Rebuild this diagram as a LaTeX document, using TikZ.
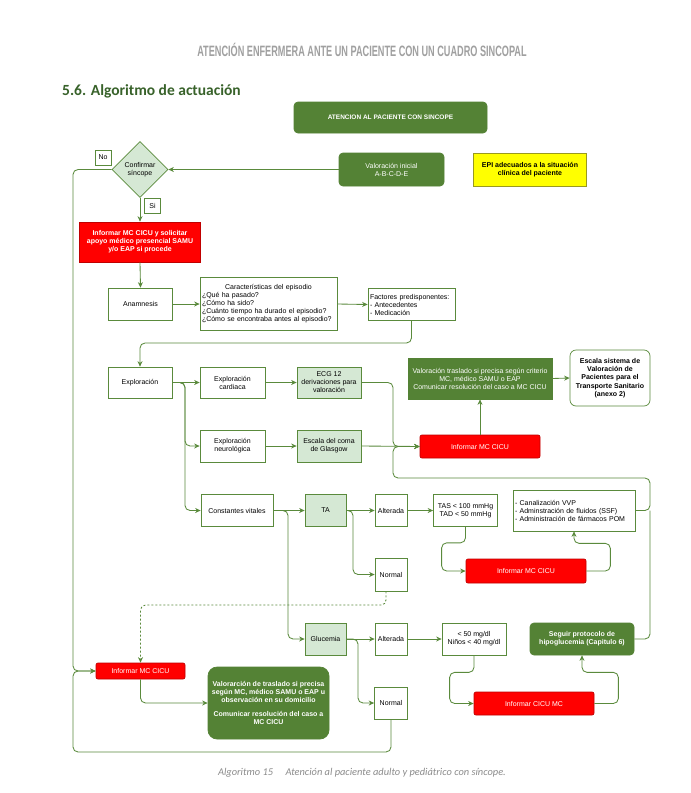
\documentclass[tikz,border=0pt]{standalone}
\usepackage{fontspec}
\setmainfont{Liberation Sans}
\newfontfamily\titlefont[FakeStretch=0.61]{Liberation Sans}
\newfontfamily\headfont{Carlito}
\usetikzlibrary{shapes.geometric,arrows.meta,calc}
\definecolor{dgreen}{HTML}{548235}
\definecolor{lcol}{HTML}{5A8A3C}
\definecolor{lgreen}{HTML}{D5E8D4}
\definecolor{rfill}{HTML}{FF0000}
\definecolor{rborder}{HTML}{C00000}
\definecolor{yfill}{HTML}{FFFF00}
\definecolor{yborder}{HTML}{99991F}
\definecolor{tgray}{HTML}{A0A0A0}
\definecolor{hgreen}{HTML}{38622A}
\definecolor{cgray}{HTML}{8C8C8C}
\tikzset{
  base/.style={font=\fontsize{7}{8}\selectfont, align=center, inner sep=1pt, line width=0.7pt},
  wbox/.style={base, draw=lcol, fill=white},
  lbox/.style={wbox, fill=lgreen},
  gbox/.style={base, draw=dgreen, fill=dgreen, text=white, rounded corners=4pt},
  rbox/.style={base, draw=rborder, fill=rfill, text=white, rounded corners=2pt},
  ybox/.style={base, draw=yborder, fill=yfill, font=\fontsize{7}{8}\selectfont\bfseries},
  sz/.style 2 args={minimum width=#1pt, minimum height=#2pt},
  conn/.style={draw=lcol, line width=0.85pt, rounded corners=5pt, -{Stealth[length=5.5pt,width=5pt]}},
  plain/.style={draw=lcol, line width=0.85pt, rounded corners=5pt},
}
\begin{document}
\begin{tikzpicture}[x=1pt,y=-1pt]
\useasboundingbox[fill=white] (0,0) rectangle (691,793);

% texts
\node[font=\titlefont\bfseries\fontsize{15}{15}\selectfont, text=tgray] (title) at (362,50) {ATENCIÓN ENFERMERA ANTE UN PACIENTE CON UN CUADRO SINCOPAL};
\node[font=\headfont\bfseries\fontsize{15.5}{16}\selectfont, text=hgreen, anchor=west, inner sep=0] (head) at (62,91) {5.6. Algoritmo de actuación};
\node[font=\headfont\itshape\fontsize{10.4}{11}\selectfont, text=cgray] (cap) at (362,773) {Algoritmo 15\hspace{1.2em}Atención al paciente adulto y pediátrico con síncope.};

% coordinates
\coordinate (lx) at (73,0);
\coordinate (ex) at (185,0);
\coordinate (gx) at (288,0);
\coordinate (tx) at (353,0);
\coordinate (g2x) at (358,0);
\coordinate (mx) at (393,0);
\coordinate (rx) at (650,0);
\coordinate (topy) at (0,343);
\coordinate (midy) at (0,478);
\coordinate (dashy) at (0,605);
\coordinate (boty) at (0,752);

% nodes
\node[gbox, sz={193}{31}, font=\fontsize{6.5}{8}\selectfont\bfseries] (atten) at (390.5,117.5) {ATENCION AL PACIENTE CON SINCOPE};
\node[base, draw=lcol, fill=lgreen, shape=diamond, sz={56}{56}, inner sep=0pt] (diamond) at (140,169.5) {Confirmar\\síncope};
\node[wbox, sz={16}{15}] (no) at (103,157.5) {No};
\node[wbox, sz={16}{15}] (si) at (152.5,205.5) {Si};
\node[gbox, sz={105}{33}] (valini) at (391.5,169.5) {Valoración inicial\\A-B-C-D-E};
\node[ybox, sz={113}{33}] (epi) at (530,169.5) {EPI adecuados a la situación\\clínica del paciente};
\node[rbox, rounded corners=0pt, sz={121}{40}, font=\fontsize{7}{8}\selectfont\bfseries] (red1) at (140,242) {Informar MC CICU y solicitar\\apoyo médico presencial SAMU\\y/o EAP si procede};
\node[wbox, sz={64}{32}] (anam) at (140.5,304) {Anamnesis};
\node[wbox, sz={137}{53}, text width=133pt, align=left] (carac) at (268.5,304) {\makebox[133pt][c]{Características del episodio}\\¿Qué ha pasado?\\¿Cómo ha sido?\\¿Cuánto tiempo ha durado el episodio?\\¿Cómo se encontraba antes al episodio?};
\node[wbox, sz={87}{32}, text width=83pt, align=left] (factores) at (411.5,304.5) {Factores predisponentes:\\- Antecedentes\\- Medicación};
\node[wbox, sz={64}{31}] (explo) at (140,382.5) {Exploración};
\node[wbox, sz={65}{31}] (cardi) at (232.5,382.5) {Exploración\\cardiaca};
\node[lbox, sz={64}{31}] (ecg) at (329,382.5) {ECG 12\\derivaciones para\\valoración};
\node[wbox, sz={65}{32}] (neuro) at (232.5,446) {Exploración\\neurológica};
\node[lbox, sz={64}{32}] (glas) at (329,446) {Escala del coma\\de Glasgow};
\node[gbox, rounded corners=0pt, sz={144}{41}] (vtras) at (480,378.5) {Valoración traslado si precisa según criterio\\MC, médico SAMU o EAP\\Comunicar resolución del caso a MC CICU};
\node[wbox, rounded corners=6pt, sz={80}{56}, font=\fontsize{7}{8.3}\selectfont\bfseries] (escala) at (610,378) {Escala sistema de\\Valoración de\\Pacientes para el\\Transporte Sanitario\\(anexo 2)};
\node[rbox, sz={120}{23}] (red1b) at (480,446.5) {Informar MC CICU};
\node[wbox, sz={72}{32}] (const) at (237,510.5) {Constantes vitales};
\node[lbox, sz={41}{32}] (ta) at (325.5,510.5) {TA};
\node[wbox, sz={32}{32}] (alt1) at (391,510.5) {Alterada};
\node[wbox, sz={64}{32}] (tas) at (465.5,510.5) {TAS < 100 mmHg\\TAD < 50 mmHg};
\node[wbox, sz={122}{41}, text width=118pt, align=left] (vvp) at (574,510.5) {- Canalización VVP\\- Adminstración de fluidos (SSF)\\- Administración de fármacos POM};
\node[wbox, sz={32}{33}] (norm1) at (391,574.5) {Normal};
\node[rbox, sz={120}{24}] (red2) at (526,571) {Informar MC CICU};
\node[lbox, sz={41}{32}] (glu) at (325.5,639) {Glucemia};
\node[wbox, sz={32}{32}] (alt2) at (391,639) {Alterada};
\node[wbox, sz={64}{32}] (lt50) at (474,639) {< 50 mg/dl\\Niños < 40 mg/dl};
\node[gbox, sz={104}{32}, font=\fontsize{7}{8}\selectfont\bfseries] (seguir) at (582,639) {Seguir protocolo de\\hipoglucemia (Capitulo 6)};
\node[wbox, sz={33}{32}] (norm2) at (391,703) {Normal};
\node[rbox, sz={120}{23}] (red4) at (534,703.5) {Informar CICU MC};
\node[rbox, sz={89}{16}] (red3) at (140.5,671) {Informar MC CICU};
\node[gbox, rounded corners=9pt, sz={121}{72}, font=\fontsize{7}{7.8}\selectfont\bfseries] (bigg) at (268.5,703) {Valorarción de traslado si precisa\\según MC, médico SAMU o EAP u\\observación en su domicilio\\[7pt]Comunicar resolución del caso a\\MC CICU};

% connectors
\draw[conn] (valini.west) -- (diamond.east);
\draw[conn] (diamond.south) -- (red1.north);
\draw[conn] (red1.south) -- (anam.north);
\draw[conn] (anam.east) -- (carac.west);
\draw[conn] (carac.east) -- (factores.west);
\draw[conn] (factores.south) |- (explo.north |- topy) -- (explo.north);
\draw[conn] (explo.east) -- (cardi.west);
\draw[conn] (explo.east) -| (ex |- neuro.west) -- (neuro.west);
\draw[conn] (explo.east) -| (ex |- const.west) -- (const.west);
\draw[conn] (cardi.east) -- (ecg.west);
\draw[conn] (neuro.east) -- (glas.west);
\draw[conn] (ecg.east) -| (mx |- red1b.west) -- (red1b.west);
\draw[conn] (glas.east) -- (red1b.west);
\draw[conn] (vvp.east) -| (rx |- midy) -| (mx |- red1b.west) -- (red1b.west);
\draw[plain] (seguir.east) -| (rx |- vvp.east);
\draw[conn] (red1b.north) -- (vtras.south);
\draw[conn] (vtras.east) -- (escala.west);
\draw[conn] (const.east) -- (ta.west);
\draw[conn] (const.east) -| (gx |- glu.west) -- (glu.west);
\draw[conn] (ta.east) -- (alt1.west);
\draw[conn] (ta.east) -| (tx |- norm1.west) -- (norm1.west);
\draw[conn] (alt1.east) -- (tas.west);
\draw[conn] (tas.south) -- ++(0,16) -| ($(red2.west)+(-24,0)$) -- (red2.west);
\draw[conn] (red2.east) -- ++(24,0) |- ($(vvp.south)+(0,12)$) -- (vvp.south);
\draw[conn, dash pattern=on 2pt off 2pt] ([xshift=-5pt]norm1.south) |- (red3.north |- dashy) -- (red3.north);
\draw[conn] (diamond.west) -| (lx |- red3.west) -- (red3.west);
\draw[conn] (norm2.south) |- (lx |- boty) |- (red3.west);
\draw[conn] (red3.south) |- (bigg.west);
\draw[conn] (glu.east) -- (alt2.west);
\draw[conn] (glu.east) -| (g2x |- norm2.west) -- (norm2.west);
\draw[conn] (alt2.east) -- (lt50.west);
\draw[conn] (lt50.south) -- ++(0,17) -| ($(red4.west)+(-24,0)$) -- (red4.west);
\draw[conn] (red4.east) -- ++(24,0) |- ($(seguir.south)+(0,17)$) -- (seguir.south);
\end{tikzpicture}
\end{document}
